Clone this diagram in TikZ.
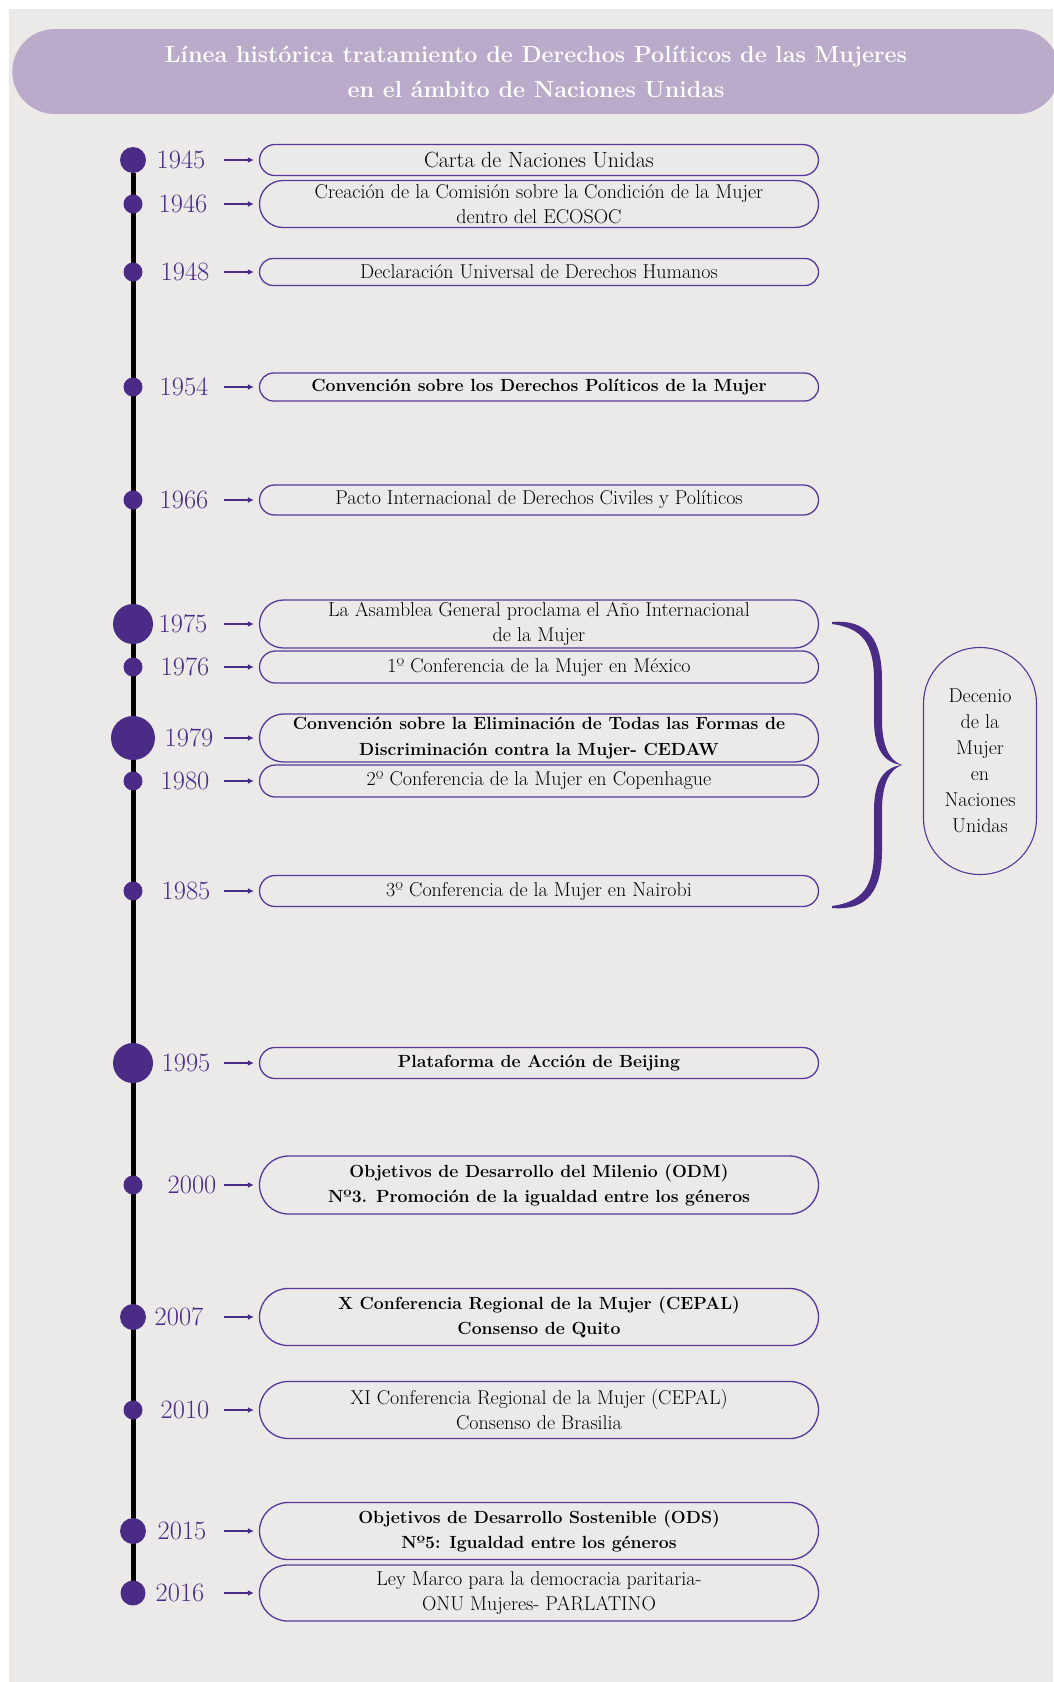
\documentclass[tikz,border=0pt]{standalone}
\usepackage{fontspec}
\usetikzlibrary{arrows.meta, positioning, shapes.misc, backgrounds}

\definecolor{fondo}{HTML}{ECEAE8}
\definecolor{lila}{HTML}{B9ABC9}
\definecolor{morado}{HTML}{4A2C86}
\definecolor{borde}{HTML}{56379A}

\tikzset{%
   % dots on the time line, diameter given per year
   hito/.style={
      circle,
      inner sep=0pt,
      outer sep=0pt,
      minimum size=#1,
      fill=morado
   },
   anio/.style={
      text=morado,
      inner sep=0pt,
      font=\fontsize{26.5}{26.5}\selectfont
   },
   evento/.style={
      rounded rectangle,
      draw=borde,
      line width=1.3pt,
      minimum width=561pt,
      inner sep=1pt,
      align=center,
      font=\fontsize{20}{25}\selectfont
   },
   eventob/.style={
      evento,
      font=\fontsize{17.6}{25.5}\selectfont\bfseries
   },
   flecha/.style={
      -{Latex[length=6pt, width=6pt]},
      draw=morado,
      line width=1.6pt,
      shorten >=5pt
   },
   titulo/.style={
      rounded rectangle,
      fill=lila,
      text=white,
      minimum width=1054pt,
      minimum height=85pt,
      align=center,
      font=\fontsize{23.3}{35}\selectfont\bfseries
   },
}

\begin{document}
\begin{tikzpicture}[x=1pt, y=-1pt]
  \useasboundingbox (0,0) rectangle (1053,1682);

  \node[titulo] (tit) at (536,71.5) {Línea histórica tratamiento de Derechos Políticos de las Mujeres\\en el ámbito de Naciones Unidas};

  % time line dots
  \node[hito=26pt] (d1945) at (133,160)  {};
  \node[hito=19pt] (d1946) at (133,204)  {};
  \node[hito=19pt] (d1948) at (133,272)  {};
  \node[hito=19pt] (d1954) at (133,387)  {};
  \node[hito=19pt] (d1966) at (133,500)  {};
  \node[hito=40pt] (d1975) at (133,624)  {};
  \node[hito=19pt] (d1976) at (133,667)  {};
  \node[hito=44pt] (d1979) at (133,738)  {};
  \node[hito=19pt] (d1980) at (133,781)  {};
  \node[hito=19pt] (d1985) at (133,891)  {};
  \node[hito=40pt] (d1995) at (133,1063) {};
  \node[hito=19pt] (d2000) at (133,1185) {};
  \node[hito=26pt] (d2007) at (133,1317) {};
  \node[hito=19pt] (d2010) at (133,1410) {};
  \node[hito=26pt] (d2015) at (133,1531) {};
  \node[hito=25pt] (d2016) at (133,1593) {};

  % years
  \node[anio] (y1945) at (181,160)  {1945};
  \node[anio] (y1946) at (183,204)  {1946};
  \node[anio] (y1948) at (185,272)  {1948};
  \node[anio] (y1954) at (184,387)  {1954};
  \node[anio] (y1966) at (184,500)  {1966};
  \node[anio] (y1975) at (183,624)  {1975};
  \node[anio] (y1976) at (185,667)  {1976};
  \node[anio] (y1979) at (189,738)  {1979};
  \node[anio] (y1980) at (185,781)  {1980};
  \node[anio] (y1985) at (186,891)  {1985};
  \node[anio] (y1995) at (186,1063) {1995};
  \node[anio] (y2000) at (192,1185) {2000};
  \node[anio] (y2007) at (179,1317) {2007};
  \node[anio] (y2010) at (185,1410) {2010};
  \node[anio] (y2015) at (182,1531) {2015};
  \node[anio] (y2016) at (180,1593) {2016};

  % events
  \node[evento,  minimum height=31pt, font=\fontsize{22}{25}\selectfont] (b1945) at (539,160) {Carta de Naciones Unidas};
  \node[evento,  minimum height=47pt] (b1946) at (539,204)  {Creación de la Comisión sobre la Condición de la Mujer\\dentro del ECOSOC};
  \node[evento,  minimum height=27pt] (b1948) at (539,272)  {Declaración Universal de Derechos Humanos};
  \node[eventob, minimum height=28pt] (b1954) at (539,387)  {Convención sobre los Derechos Políticos de la Mujer};
  \node[evento,  minimum height=30pt] (b1966) at (539,500)  {Pacto Internacional de Derechos Civiles y Políticos};
  \node[evento,  minimum height=48pt] (b1975) at (539,624)  {La Asamblea General proclama el Año Internacional\\de la Mujer};
  \node[evento,  minimum height=32pt] (b1976) at (539,667)  {1º Conferencia de la Mujer en México};
  \node[eventob, minimum height=48pt] (b1979) at (539,738)  {Convención sobre la Eliminación de Todas las Formas de\\Discriminación contra la Mujer- CEDAW};
  \node[evento,  minimum height=32pt] (b1980) at (539,781)  {2º Conferencia de la Mujer en Copenhague};
  \node[evento,  minimum height=31pt] (b1985) at (539,891)  {3º Conferencia de la Mujer en Nairobi};
  \node[eventob, minimum height=31pt] (b1995) at (539,1063) {Plataforma de Acción de Beijing};
  \node[eventob, minimum height=58pt] (b2000) at (539,1185) {Objetivos de Desarrollo del Milenio (ODM)\\Nº3. Promoción de la igualdad entre los géneros};
  \node[eventob, minimum height=57pt] (b2007) at (539,1317) {X Conferencia Regional de la Mujer (CEPAL)\\Consenso de Quito};
  \node[evento,  minimum height=57pt] (b2010) at (539,1410) {XI Conferencia Regional de la Mujer (CEPAL)\\Consenso de Brasilia};
  \node[eventob, minimum height=57pt] (b2015) at (539,1531) {Objetivos de Desarrollo Sostenible (ODS)\\Nº5: Igualdad entre los géneros};
  \node[evento,  minimum height=56pt] (b2016) at (539,1593) {Ley Marco para la democracia paritaria-\\ONU Mujeres- PARLATINO};

  \node[draw=borde, line width=1.1pt, rounded corners=56pt, minimum width=113pt, minimum height=227pt,
        align=center, font=\fontsize{20}{26}\selectfont] (decenio) at (980,761)
        {Decenio\\de la\\Mujer\\en\\Naciones\\Unidas};

  \coordinate (ax) at (224,0);
  \foreach \a in {1945,1946,1948,1954,1966,1975,1976,1979,1980,1985,1995,2000,2007,2010,2015,2016}
    \draw[flecha] (ax |- b\a.west) -- (b\a.west);

  % brace, two mirrored halves
  \coordinate (punta) at (902,765);
  \foreach \s in {1,-1}
    \fill[morado, shift={(punta)}, yscale=\s]
      (-70,-143) .. controls (-34,-146) and (-20,-125) .. (-20,-85) -- (-20,-45)
      .. controls (-20,-18) and (-12,-4) .. (0,0)
      .. controls (-18,-2) and (-28,-16) .. (-28,-45) -- (-28,-85)
      .. controls (-28,-122) and (-40,-137) .. (-70,-141) -- cycle;

  \begin{scope}[on background layer]
    \fill[fondo] (9,9) rectangle (1053,1682);
    \draw[line width=5pt] (d1945) -- (d2016);
  \end{scope}
\end{tikzpicture}
\end{document}
